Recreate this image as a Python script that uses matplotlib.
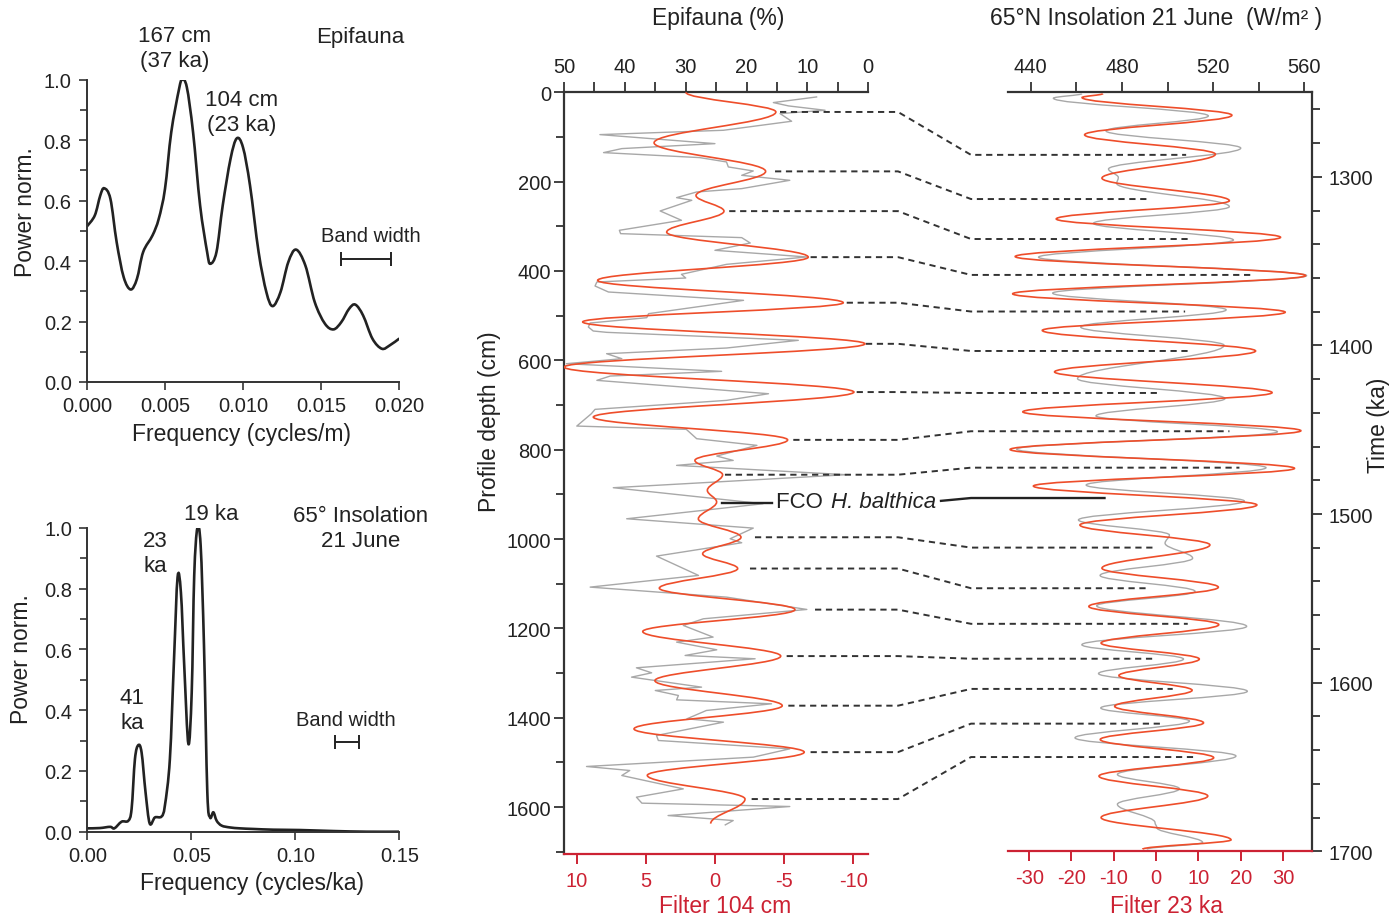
import numpy as np
import matplotlib
matplotlib.use("Agg")
import matplotlib.pyplot as plt
from matplotlib.path import Path
from matplotlib.patches import PathPatch
from matplotlib.lines import Line2D
from matplotlib.ticker import MultipleLocator, FormatStrFormatter

plt.rcParams['font.family'] = ['Liberation Sans', 'DejaVu Sans']
plt.rcParams['axes.unicode_minus'] = False

# ---- spectra ----
epi_freq = [0.0000, 0.0005, 0.00085, 0.0011, 0.0015, 0.0019, 0.00235, 0.0028, 0.0032, 0.0036,
            0.0042, 0.0046, 0.0050, 0.0054, 0.0059, 0.0061, 0.0064, 0.0068, 0.00725, 0.0077,
            0.0079, 0.0083, 0.0087, 0.0092, 0.0096, 0.0100, 0.01045, 0.0110, 0.0115, 0.0119,
            0.0124, 0.0129, 0.0134, 0.0140, 0.0146, 0.01525, 0.0158, 0.0163, 0.0168, 0.0172,
            0.0177, 0.0183, 0.0189, 0.0194, 0.0200]
epi_power = [0.515, 0.551, 0.617, 0.641, 0.606, 0.463, 0.347, 0.306, 0.341, 0.430,
             0.485, 0.540, 0.639, 0.826, 0.969, 1.000, 0.975, 0.826, 0.584, 0.430,
             0.391, 0.430, 0.584, 0.738, 0.806, 0.776, 0.650, 0.430, 0.297, 0.251,
             0.297, 0.396, 0.438, 0.385, 0.264, 0.193, 0.174, 0.198, 0.242, 0.256,
             0.220, 0.143, 0.110, 0.121, 0.143]

ins_freq = [0.000, 0.006, 0.011, 0.013, 0.0165, 0.0197, 0.0213, 0.0229, 0.0245, 0.0261,
            0.028, 0.030, 0.0325, 0.0357, 0.0373, 0.0397, 0.0417, 0.0434, 0.0450, 0.0466,
            0.0486, 0.0502, 0.0514, 0.0529, 0.0545, 0.0561, 0.0577, 0.059, 0.0606, 0.0622,
            0.0646, 0.0686, 0.0734, 0.0798, 0.0894, 0.1022, 0.1183, 0.1343, 0.150]
ins_power = [0.011, 0.012, 0.016, 0.011, 0.033, 0.036, 0.075, 0.239, 0.285, 0.261,
             0.130, 0.027, 0.047, 0.050, 0.086, 0.239, 0.569, 0.838, 0.788, 0.547,
             0.289, 0.459, 0.843, 1.000, 0.942, 0.613, 0.130, 0.047, 0.064, 0.036,
             0.020, 0.014, 0.011, 0.009, 0.0066, 0.0055, 0.0022, 0.0, 0.0]

bw_epi = (0.01787, 0.0032, 0.407)   # centre, band width, height
bw_ins = (0.12485, 0.0115, 0.294)

# ---- epifauna profile ----
f104_depth = [0, 44, 113, 177, 231, 266, 313, 369, 421, 471, 514, 563, 615, 671, 727, 778, 824,
              856, 891, 917, 955, 996, 1033, 1066, 1110, 1158, 1207, 1262, 1317, 1373, 1425,
              1477, 1529, 1582, 1637]
f104_val = [2.1, -4.4, 4.4, -3.66, 1.37, -0.65, 3.49, -6.74, 8.48, -9.27, 9.56, -10.84, 10.9,
            -10.04, 8.79, -5.25, 1.45, -0.55, 0.55, -0.12, 1.2, -1.88, 0.89, -1.64, 4.02, -5.78,
            5.22, -4.75, 4.34, -4.86, 5.85, -6.45, 4.89, -2.17, 0.31]

epi_depth = [10.4, 23.0, 30.5, 40.2, 47.7, 64.8, 85.0, 94.7, 114.9, 126.0, 135.0, 146.2, 155.9,
             167.1, 176.1, 185.8, 197.0, 215.6, 223.1, 235.8, 241.7, 265.6, 286.5, 308.9, 316.4,
             325.3, 337.3, 353.7, 368.6, 385.1, 407.4, 415.7, 424.6, 433.6, 447.0, 465.7, 495.5,
             504.5, 516.4, 525.4, 534.3, 537.3, 555.2, 572.4, 585.1, 596.3, 607.5, 624.6, 635.1,
             644.8, 674.7, 689.6, 709.7, 719.4, 747.1, 754.5, 775.4, 790.3, 814.2, 824.0, 835.1,
             856.0, 885.1, 921.0, 954.6, 975.5, 999.3, 1008.3, 1038.2, 1081.4, 1107.6, 1130.0,
             1157.6, 1178.5, 1193.4, 1219.5, 1230.7, 1247.9, 1260.6, 1268.0, 1288.2, 1299.4,
             1309.1, 1331.5, 1339.0, 1350.2, 1359.9, 1368.8, 1383.7, 1402.4, 1409.9, 1439.7,
             1450.9, 1469.6, 1488.2, 1509.1, 1518.1, 1529.3, 1559.2, 1577.8, 1591.2, 1598.7,
             1618.9, 1630.1, 1639.8]
epi_pct = [8.5, 15.6, 13.1, 7.1, 14.5, 12.6, 23.8, 44.1, 25.2, 40.5, 43.5, 27.7, 23.3,
           23.0, 18.9, 20.8, 12.9, 20.8, 28.2, 31.5, 29.0, 34.2, 30.7, 40.9, 40.7,
           20.8, 19.4, 25.2, 10.1, 23.3, 30.7, 30.0, 44.6, 44.9, 42.7, 20.5, 36.1,
           36.4, 45.7, 46.0, 45.2, 43.0, 11.5, 23.3, 43.0, 40.5, 49.6, 24.1, 42.4,
           44.6, 16.4, 23.3, 44.9, 45.5, 47.9, 29.9, 28.2, 18.3, 24.9, 22.2, 31.5,
           3.6, 41.9, 17.3, 39.7, 18.9, 22.7, 20.8, 34.8, 27.9, 45.7, 23.3,
           10.1, 27.1, 30.4, 25.5, 31.5, 24.9, 30.1, 18.6, 38.1, 35.6,
           38.9, 27.4, 35.0, 31.2, 31.5, 15.9, 26.6, 29.8, 23.8, 34.8,
           34.5, 12.9, 18.9, 46.3, 39.2, 40.5, 30.4, 38.1, 37.2, 12.9,
           32.9, 22.2, 23.5]

# ---- insolation profile ----
f23_time = [1250.7, 1253.0, 1263.5, 1275.1, 1286.6, 1300.8, 1314.2, 1325.0, 1335.9, 1347.3,
            1358.6, 1369.4, 1380.3, 1391.1, 1403.3, 1415.7, 1428.0, 1439.4, 1450.6, 1461.7,
            1472.9, 1483.4, 1494.6, 1506.5, 1518.3, 1532.1, 1543.4, 1554.8, 1565.6, 1576.5,
            1586.0, 1595.8, 1604.5, 1614.0, 1623.8, 1633.7, 1644.5, 1655.4, 1667.2, 1680.0,
            1693.2, 1698.8]
f23_val = [-12.6, -17.5, 17.9, -16.9, 14.0, -12.8, 17.3, -23.6, 29.4, -33.3,
           35.3, -33.9, 30.5, -26.9, 23.5, -24.0, 27.4, -31.5, 34.2, -34.5,
           32.7, -29.0, 23.8, -18.0, 12.7, -12.8, 14.7, -15.9, 14.8, -13.0,
           10.2, -8.8, 8.5, -9.8, 11.2, -13.2, 13.6, -13.5, 12.2, -13.0,
           17.7, -3.2]

ins_time = [1250.7, 1253.4, 1263.9, 1272.8, 1283.0, 1295.4, 1300.4, 1304.0, 1317.7, 1327.6,
            1337.5, 1347.7, 1358.6, 1369.0, 1378.9, 1389.1, 1399.9, 1419.7, 1431.5, 1441.8,
            1451.2, 1461.5, 1472.5, 1482.8, 1492.3, 1503.5, 1512.4, 1517.3, 1526.2, 1536.4,
            1545.9, 1554.4, 1566.6, 1577.5, 1586.0, 1594.6, 1605.1, 1615.0, 1622.8, 1632.7,
            1643.5, 1654.4, 1662.9, 1672.1, 1683.0, 1686.0, 1694.8, 1698.8]
ins_wm2 = [462.4, 449.9, 517.9, 473.0, 532.1, 474.1, 478.4, 477.7, 527.1, 467.5,
           528.9, 443.4, 561.0, 449.6, 525.7, 461.9, 524.8, 460.5, 525.2, 468.6,
           548.2, 433.8, 543.2, 464.3, 533.7, 460.9, 500.8, 498.9, 511.0, 470.4,
           512.1, 468.9, 534.7, 462.4, 507.0, 469.7, 535.0, 470.7, 509.6, 459.4,
           530.0, 478.0, 505.2, 478.0, 494.5, 495.3, 515.4, 490.9]

# tie points: depth -> age, with start (filter 104) / end (filter 23) of dashed line
tie_depth = [44, 177, 266, 369, 471, 563, 671, 778, 856, 996, 1066, 1158, 1262, 1373, 1477, 1582]
tie_time = [1287.0, 1313.2, 1336.9, 1358.2, 1379.9, 1403.3, 1428.2, 1450.9, 1472.5, 1519.9,
            1544.0, 1565.1, 1585.8, 1603.7, 1624.3, 1644.1]
tie_start = [-4.70, -4.34, -1.03, -6.91, -9.52, -10.91, -10.24, -5.66, -0.72, -2.89, -2.53,
             -7.23, -5.18, -5.30, -6.91, -2.65]
tie_end = [7.09, -1.75, 7.63, 22.99, 6.85, 7.63, 0.38, 17.32, 19.68, -0.80, -2.36, 7.47,
           -0.17, 3.92, 1.72, 9.05]

fco_depth, fco_time = 919, 1490.5

W, H = 1400, 920
RED = '#cc2233'
ORANGE = '#ee4d2a'
GRAY = '#a8a8a8'
DARK = '#222222'
TICK = 14.5


def fx(x):
    return x / W


def fy(y):
    return 1 - y / H


def profile(ax, vals, pos, color, lw):
    # smooth curve through turning points, tangent parallel to the depth axis
    verts = [(vals[0], pos[0])]
    codes = [Path.MOVETO]
    for i in range(1, len(vals)):
        d = pos[i] - pos[i - 1]
        verts += [(vals[i - 1], pos[i - 1] + 0.364 * d), (vals[i], pos[i] - 0.364 * d), (vals[i], pos[i])]
        codes += [Path.CURVE4] * 3
    ax.add_patch(PathPatch(Path(verts, codes), fill=False, ec=color, lw=lw, zorder=3))


def spectrum(ax, x, y, color, lw):
    # Catmull-Rom through the read points
    p = np.column_stack([x, y])
    verts = [tuple(p[0])]
    codes = [Path.MOVETO]
    n = len(p)
    for i in range(n - 1):
        pm = p[max(i - 1, 0)]
        pp = p[min(i + 2, n - 1)]
        verts += [tuple(p[i] + (p[i + 1] - pm) / 6), tuple(p[i + 1] - (pp - p[i]) / 6), tuple(p[i + 1])]
        codes += [Path.CURVE4] * 3
    ax.add_patch(PathPatch(Path(verts, codes), fill=False, ec=color, lw=lw, capstyle='round',
                           joinstyle='round'))


fig = plt.figure(figsize=(14, 9.2), dpi=100)

ax1 = fig.add_axes([fx(87), fy(383), 312 / W, (383 - 80.7) / H])
ax2 = fig.add_axes([fx(87.3), fy(832.7), 312 / W, (832.7 - 529) / H])

for ax, f, p, xmax, xt, fmt, bw in [(ax1, epi_freq, epi_power, 0.02, 0.005, '%.3f', bw_epi),
                                    (ax2, ins_freq, ins_power, 0.15, 0.05, '%.2f', bw_ins)]:
    spectrum(ax, f, p, DARK, 1.9)
    ax.errorbar(bw[0], bw[2], xerr=bw[1] / 2, fmt='none', ecolor=DARK, elinewidth=1.4,
                capsize=5, capthick=1.4)
    ax.set_xlim(0, xmax)
    ax.set_ylim(0, 1.0)
    ax.set_xticks(np.arange(0, xmax + 1e-9, xt))
    ax.xaxis.set_major_formatter(FormatStrFormatter(fmt))
    ax.set_yticks(np.arange(0, 1.01, 0.2))
    ax.yaxis.set_major_formatter(FormatStrFormatter('%.1f'))
    ax.yaxis.set_minor_locator(MultipleLocator(0.1))
    for s in ['top', 'right']:
        ax.spines[s].set_visible(False)
    for s in ['left', 'bottom']:
        ax.spines[s].set_linewidth(1.4)
        ax.spines[s].set_color('#333333')
    ax.tick_params(which='both', direction='out', width=1.2, colors='#333333', labelcolor=DARK,
                   labelsize=TICK)
    ax.tick_params(which='major', length=6)
    ax.tick_params(which='minor', length=5)
    ax.tick_params(axis='y', pad=5)
    ax.tick_params(axis='x', pad=4)

# ---- Epifauna profile ----
ax3 = fig.add_axes([fx(564), fy(855), (868.3 - 564) / W, (855 - 93.3) / H])
ax3.set_xlim(10.91, -11.08)
ax3.set_ylim(1705, 0)
ax3t = ax3.twiny()
ax3t.set_xlim(50, 0)
ax3t.plot(epi_pct, epi_depth, color=GRAY, lw=1.0)
profile(ax3, f104_val, f104_depth, ORANGE, 1.2)
ax3.plot([-0.51, -4.12], [fco_depth, fco_depth], color=DARK, lw=1.7)
ax3.set_zorder(ax3t.get_zorder() + 1)
ax3.patch.set_visible(False)

ax3.set_xticks([10, 5, 0, -5, -10])
ax3.set_yticks(range(0, 1601, 200))
ax3.yaxis.set_minor_locator(MultipleLocator(100))
ax3t.set_xticks([50, 40, 30, 20, 10, 0])
ax3t.xaxis.set_minor_locator(MultipleLocator(5))

# ---- Insolation profile ----
ax4 = fig.add_axes([fx(1008), fy(852.3), (1312.3 - 1008) / W, (852.3 - 93.3) / H])
ax4.set_xlim(-35.0, 36.9)
ax4.set_ylim(1700, 1249.9)
ax4t = ax4.twiny()
ax4t.set_xlim(430, 563.5)
profile(ax4t, ins_wm2, ins_time, GRAY, 1.0)
profile(ax4, f23_val, f23_time, ORANGE, 1.2)
ax4.set_zorder(ax4t.get_zorder() + 1)
ax4.patch.set_visible(False)
ax4.yaxis.tick_right()
ax4.set_xticks(range(-30, 31, 10))
ax4.set_yticks(range(1300, 1701, 100))
ax4.yaxis.set_minor_locator(MultipleLocator(20))
ax4t.set_xticks([440, 480, 520, 560])
ax4t.set_xticks([460, 500, 540], minor=True)

for a in [ax3, ax3t, ax4, ax4t]:
    for s in a.spines.values():
        s.set_visible(False)
        s.set_linewidth(1.6)
        s.set_color('#333333')
ax3.spines['left'].set_visible(True)
ax3.spines['bottom'].set_visible(True)
ax3t.spines['top'].set_visible(True)
ax4.spines['right'].set_visible(True)
ax4.spines['bottom'].set_visible(True)
ax4t.spines['top'].set_visible(True)
for a in [ax3, ax4]:
    a.spines['bottom'].set_color(RED)
    a.tick_params(axis='x', which='both', direction='out', length=7, width=1.4, colors=RED,
                  labelsize=TICK, pad=5)
    a.tick_params(axis='y', which='both', direction='out', width=1.3, colors='#333333',
                  labelcolor=DARK, labelsize=TICK)
    a.tick_params(axis='y', which='major', length=7)
    a.tick_params(axis='y', which='minor', length=6)
ax3.tick_params(axis='y', pad=2)
ax4.tick_params(axis='y', pad=5)
for a in [ax3t, ax4t]:
    a.tick_params(axis='x', which='both', direction='out', width=1.3, colors='#333333',
                  labelcolor=DARK, labelsize=TICK, pad=5)
    a.tick_params(axis='x', which='major', length=7)
    a.tick_params(axis='x', which='minor', length=7)

# ---- dashed tie lines between the two profiles ----
inv = fig.transFigure.inverted()
for d, t, s, e in zip(tie_depth, tie_time, tie_start, tie_end):
    x0, y0 = ax3.transData.transform((s, d))
    x3, y3 = ax4.transData.transform((e, t))
    pts = inv.transform([(x0, y0), (898, y0), (971, y3), (x3, y3)])
    fig.add_artist(Line2D(pts[:, 0], pts[:, 1], transform=fig.transFigure, color='#333333',
                          lw=1.4, ls=(0, (3.2, 2.4))))

x0, y0 = ax3.transData.transform((0, fco_depth))
x3, y3 = ax4.transData.transform((-12.2, fco_time))
pts = inv.transform([(941, y0 + 2), (971, y3), (x3, y3)])
fig.add_artist(Line2D(pts[:, 0], pts[:, 1], transform=fig.transFigure, color=DARK, lw=1.7))
fig.text(fx(776), fy(503), 'FCO ', fontsize=16, color=DARK, ha='left', va='center')
fig.text(fx(831), fy(503), 'H. balthica', fontsize=16, color=DARK, ha='left', va='center',
         style='italic')

# ---- labels ----
kw = dict(ha='center', va='center', color=DARK)
fig.text(fx(26), fy(212), 'Power norm.', rotation=90, fontsize=16.5, **kw)
fig.text(fx(22), fy(659), 'Power norm.', rotation=90, fontsize=16.5, **kw)
fig.text(fx(242), fy(434), 'Frequency (cycles/m)', fontsize=16.5, **kw)
fig.text(fx(252), fy(884), 'Frequency (cycles/ka)', fontsize=16.5, **kw)
fig.text(fx(175), fy(49), '167 cm\n(37 ka)', fontsize=16, linespacing=1.25, **kw)
fig.text(fx(360), fy(37), 'Epifauna', fontsize=16, **kw)
fig.text(fx(242), fy(113), '104 cm\n(23 ka)', fontsize=16, linespacing=1.25, **kw)
fig.text(fx(371), fy(237), 'Band width', fontsize=14.5, **kw)
fig.text(fx(211), fy(515), '19 ka', fontsize=16, **kw)
fig.text(fx(155), fy(554), '23\nka', fontsize=16, linespacing=1.25, **kw)
fig.text(fx(132), fy(711), '41\nka', fontsize=16, linespacing=1.25, **kw)
fig.text(fx(361), fy(529), '65\u00b0 Insolation\n21 June', fontsize=16, linespacing=1.25, **kw)
fig.text(fx(346), fy(720), 'Band width', fontsize=14.5, **kw)

fig.text(fx(718), fy(19), 'Epifauna (%)', fontsize=16.5, **kw)
fig.text(fx(489), fy(422), 'Profile depth (cm)', rotation=90, fontsize=16.5, **kw)
fig.text(fx(725), fy(907), 'Filter 104 cm', fontsize=16.5, ha='center', va='center', color=RED)
fig.text(fx(1156), fy(19), '65\u00b0N Insolation 21 June  (W/m\u00b2 )', fontsize=16.5, **kw)
fig.text(fx(1379), fy(425), 'Time (ka)', rotation=90, fontsize=16.5, **kw)
fig.text(fx(1167), fy(907), 'Filter 23 ka', fontsize=16.5, ha='center', va='center', color=RED)

fig.savefig('out.png', dpi=100, facecolor='white')
